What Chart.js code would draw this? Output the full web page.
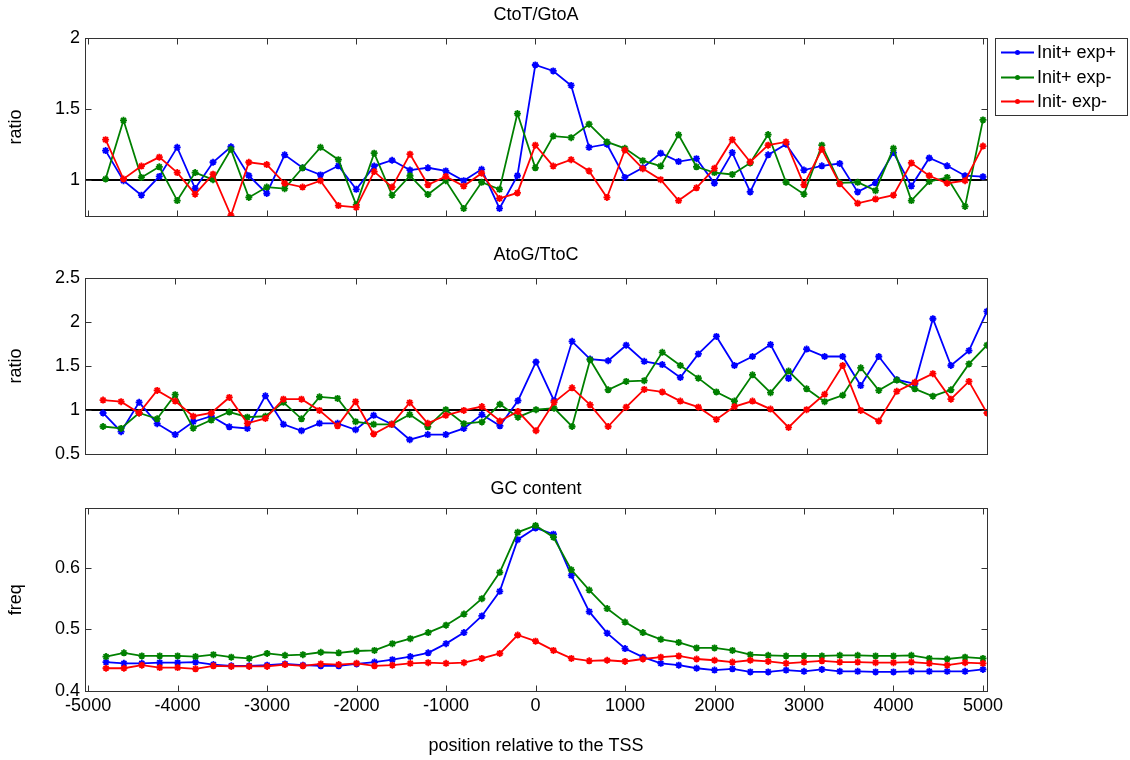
<!DOCTYPE html>
<html>
<head>
<meta charset="utf-8">
<script src="https://cdn.jsdelivr.net/npm/chart.js@4.4.1/dist/chart.umd.min.js"></script>
<style>
  html, body { margin: 0; padding: 0; background: #ffffff; }
  body { width: 1130px; height: 760px; position: relative; overflow: hidden; }
  canvas { position: absolute; left: 0; }
</style>
</head>
<body>
<canvas id="c1" width="1130" height="232" style="top:0px"></canvas>
<canvas id="c2" width="1130" height="238" style="top:232px"></canvas>
<canvas id="c3" width="1130" height="290" style="top:470px"></canvas>
<script>
// ---------- data ----------
const positions = [-4800,-4600,-4400,-4200,-4000,-3800,-3600,-3400,-3200,-3000,
  -2800,-2600,-2400,-2200,-2000,-1800,-1600,-1400,-1200,-1000,
  -800,-600,-400,-200,0,200,400,600,800,1000,
  1200,1400,1600,1800,2000,2200,2400,2600,2800,3000,
  3200,3400,3600,3800,4000,4200,4400,4600,4800,5000];

const seriesLabels = ['Init+ exp+', 'Init+ exp-', 'Init- exp-'];
const panelTitles = ['CtoT/GtoA', 'AtoG/TtoC', 'GC content'];
const yTitles = ['ratio', 'ratio', 'freq'];
const xTitle = 'position relative to the TSS';

const xTickValues = [-5000,-4000,-3000,-2000,-1000,0,1000,2000,3000,4000,5000];
const yTicksTop = [1, 1.5, 2];
const yTicksMid = [0.5, 1, 1.5, 2, 2.5];
const yTicksBot = [0.4, 0.5, 0.6];

// CtoT/GtoA
const ctBlue = [1.207,0.995,0.893,1.025,1.23,0.94,1.125,1.234,1.03,0.905,
  1.177,1.086,1.036,1.10,0.934,1.098,1.139,1.07,1.086,1.064,
  0.995,1.075,0.80,1.03,1.81,1.768,1.666,1.23,1.252,1.018,
  1.086,1.189,1.13,1.15,0.977,1.193,0.916,1.177,1.252,1.07,
  1.10,1.116,0.916,0.98,1.193,0.957,1.155,1.10,1.03,1.023];
const ctGreen = [1.007,1.42,1.018,1.093,0.855,1.052,1.002,1.216,0.877,0.95,
  0.939,1.086,1.23,1.143,0.825,1.189,0.893,1.03,0.898,0.995,
  0.80,0.984,0.934,1.468,1.086,1.309,1.298,1.393,1.268,1.223,
  1.136,1.098,1.318,1.093,1.052,1.039,1.12,1.32,0.984,0.90,
  1.245,0.98,0.984,0.925,1.223,0.855,0.989,1.018,0.814,1.423];
const ctRed = [1.284,1.007,1.098,1.161,1.052,0.90,1.041,0.75,1.125,1.109,
  0.977,0.95,0.995,0.82,0.807,1.059,0.95,1.182,0.966,1.025,
  0.957,1.048,0.87,0.909,1.245,1.098,1.143,1.064,0.877,1.211,
  1.08,1.002,0.855,0.945,1.082,1.284,1.127,1.245,1.268,0.966,
  1.216,0.973,0.836,0.866,0.893,1.12,1.03,0.977,0.995,1.239];

// AtoG/TtoC
const agBlue = [0.967,0.755,1.088,0.846,0.722,0.868,0.93,0.81,0.792,1.161,
  0.839,0.766,0.85,0.85,0.777,0.941,0.839,0.664,0.722,0.722,
  0.792,0.949,0.821,1.106,1.545,1.106,1.779,1.578,1.559,1.735,
  1.552,1.516,1.369,1.636,1.834,1.505,1.607,1.742,1.358,1.691,
  1.607,1.607,1.278,1.607,1.344,1.296,2.035,1.505,1.673,2.119];
const agGreen = [0.814,0.792,0.967,0.901,1.175,0.795,0.887,0.978,0.92,0.93,
  1.088,0.901,1.15,1.132,0.868,0.839,0.839,0.949,0.81,1.004,
  0.846,0.865,1.066,0.92,1.004,1.022,0.814,1.57,1.23,1.325,
  1.333,1.654,1.505,1.362,1.205,1.102,1.399,1.197,1.442,1.241,
  1.095,1.168,1.479,1.223,1.34,1.241,1.157,1.23,1.523,1.735];
const agRed = [1.113,1.095,0.967,1.223,1.102,0.93,0.967,1.143,0.85,0.905,
  1.124,1.124,0.996,0.821,1.095,0.729,0.839,1.084,0.85,0.941,
  0.996,1.04,0.876,0.985,0.766,1.088,1.252,1.059,0.814,1.033,
  1.234,1.205,1.102,1.033,0.894,1.04,1.102,1.011,0.803,1.004,
  1.179,1.505,0.996,0.876,1.212,1.314,1.413,1.124,1.325,0.967];

// GC content
const gcBlue = [0.447,0.445,0.445,0.446,0.446,0.447,0.443,0.441,0.441,0.442,
  0.444,0.442,0.441,0.441,0.444,0.447,0.451,0.456,0.462,0.477,
  0.495,0.522,0.562,0.646,0.665,0.655,0.588,0.529,0.494,0.469,
  0.455,0.445,0.442,0.437,0.434,0.436,0.431,0.431,0.434,0.432,
  0.435,0.432,0.432,0.431,0.431,0.432,0.432,0.432,0.432,0.435];
const gcGreen = [0.456,0.462,0.457,0.457,0.457,0.456,0.459,0.455,0.453,0.461,
  0.458,0.459,0.463,0.462,0.465,0.466,0.477,0.485,0.495,0.507,
  0.525,0.55,0.593,0.658,0.669,0.65,0.597,0.564,0.534,0.512,
  0.495,0.484,0.479,0.47,0.47,0.466,0.459,0.458,0.457,0.457,
  0.457,0.458,0.458,0.457,0.457,0.458,0.453,0.452,0.455,0.453];
const gcRed = [0.437,0.437,0.442,0.438,0.438,0.436,0.441,0.44,0.44,0.44,
  0.443,0.441,0.444,0.443,0.445,0.441,0.442,0.445,0.446,0.445,
  0.446,0.453,0.461,0.491,0.481,0.466,0.453,0.449,0.45,0.448,
  0.452,0.455,0.457,0.452,0.45,0.447,0.45,0.448,0.445,0.447,
  0.449,0.447,0.447,0.446,0.446,0.447,0.445,0.442,0.446,0.445];

const refLevel = 1;

// ---------- styling ----------
const FONT = '"Liberation Sans", Arial, Helvetica, sans-serif';
const FS = 18;
const COLORS = ['#0000ff', '#008000', '#ff0000'];
Chart.defaults.font.family = FONT;
Chart.defaults.font.size = FS;
Chart.defaults.color = '#000000';

function pts(arr) { return positions.map((x, i) => ({ x: x, y: arr[i] })); }

function seriesDatasets(arrs) {
  return arrs.map((a, k) => ({
    label: seriesLabels[k],
    data: pts(a),
    borderColor: COLORS[k],
    backgroundColor: COLORS[k],
    borderWidth: 1.8,
    pointStyle: 'star',
    pointRadius: 3.5,
    pointBorderWidth: 1.8,
    pointBorderColor: COLORS[k],
    pointBackgroundColor: COLORS[k],
    tension: 0,
    order: 3 - k
  }));
}

function refDataset(xmin, xmax) {
  return {
    label: '_ref',
    data: [{ x: xmin, y: refLevel }, { x: xmax, y: refLevel }],
    borderColor: '#000000',
    borderWidth: 2,
    pointRadius: 0,
    order: 10
  };
}

const boxPlugin = {
  id: 'matlabBox',
  afterDatasetsDraw(chart) {
    const { ctx, chartArea: a, scales } = chart;
    ctx.save();
    ctx.strokeStyle = '#333333';
    ctx.lineWidth = 1;
    const L = Math.round(a.left) + 0.5, R = Math.round(a.right) + 0.5;
    const T = Math.round(a.top) + 0.5, B = Math.round(a.bottom) + 0.5;
    ctx.strokeRect(L, T, R - L, B - T);
    const len = 6;
    ctx.beginPath();
    scales.x.ticks.forEach(t => {
      const px = Math.round(scales.x.getPixelForValue(t.value)) + 0.5;
      ctx.moveTo(px, B); ctx.lineTo(px, B - len);
      ctx.moveTo(px, T); ctx.lineTo(px, T + len);
    });
    scales.y.ticks.forEach(t => {
      const py = Math.round(scales.y.getPixelForValue(t.value)) + 0.5;
      ctx.moveTo(L, py); ctx.lineTo(L + len, py);
      ctx.moveTo(R, py); ctx.lineTo(R - len, py);
    });
    ctx.stroke();
    // panel title centred over the axes box
    const opt = chart.options.plugins.matlabBox || {};
    if (opt.title) {
      ctx.fillStyle = '#000000';
      ctx.font = FS + 'px ' + FONT;
      ctx.textAlign = 'center';
      ctx.textBaseline = 'middle';
      ctx.fillText(opt.title, (a.left + a.right) / 2, opt.titleY);
    }
    ctx.restore();
  }
};

const legendPlugin = {
  id: 'matlabLegend',
  afterDraw(chart) {
    const { ctx } = chart;
    const bx = 995.5, by = 38.5, bw = 132, bh = 77;
    ctx.save();
    ctx.fillStyle = '#ffffff';
    ctx.fillRect(bx, by, bw, bh);
    ctx.strokeStyle = '#333333';
    ctx.lineWidth = 1;
    ctx.strokeRect(bx, by, bw, bh);
    const rows = [52.5, 77.5, 101.5];
    const dsList = chart.data.datasets.filter(d => d.label !== '_ref');
    dsList.forEach((d, k) => {
      const y = rows[k];
      ctx.strokeStyle = d.borderColor;
      ctx.lineWidth = 1.8;
      ctx.beginPath();
      ctx.moveTo(1001, y); ctx.lineTo(1034, y);
      ctx.stroke();
      ctx.fillStyle = d.borderColor;
      ctx.beginPath();
      ctx.arc(1017.5, y, 2.5, 0, Math.PI * 2);
      ctx.fill();
      ctx.fillStyle = '#000000';
      ctx.font = FS + 'px ' + FONT;
      ctx.textAlign = 'left';
      ctx.textBaseline = 'middle';
      ctx.fillText(d.label, 1037, y + 1);
    });
    ctx.restore();
  }
};

function makeChart(id, cfg) {
  const xAxis = {
    type: 'linear',
    min: cfg.xmin,
    max: cfg.xmax,
    grid: { display: false, drawTicks: false },
    border: { display: false },
    afterBuildTicks: s => { s.ticks = xTickValues.map(v => ({ value: v })); },
    afterFit: s => { s.height = cfg.xHeight; },
    ticks: {
      display: cfg.showXLabels,
      autoSkip: false,
      maxRotation: 0,
      padding: 4,
      font: { size: FS },
      color: '#000000',
      callback: v => String(v)
    },
    title: {
      display: cfg.showXLabels,
      text: xTitle,
      font: { size: FS },
      color: '#000000',
      padding: { top: 3, bottom: 3 }
    }
  };
  const yAxis = {
    type: 'linear',
    min: cfg.ymin,
    max: cfg.ymax,
    grid: { display: false, drawTicks: false },
    border: { display: false },
    afterBuildTicks: s => { s.ticks = cfg.yTicks.map(v => ({ value: v })); },
    afterFit: s => { s.width = 85; },
    ticks: {
      autoSkip: false,
      padding: 5,
      font: { size: FS },
      color: '#000000',
      callback: v => String(v)
    },
    title: {
      display: true,
      text: cfg.yTitle,
      font: { size: FS },
      color: '#000000',
      padding: { top: 5, bottom: 5 }
    }
  };
  const datasets = seriesDatasets(cfg.series);
  if (cfg.ref) datasets.push(refDataset(cfg.xmin, cfg.xmax));
  const plugins = [boxPlugin];
  if (cfg.legend) plugins.push(legendPlugin);
  return new Chart(document.getElementById(id), {
    type: 'line',
    data: { datasets: datasets },
    options: {
      responsive: false,
      animation: false,
      devicePixelRatio: 1,
      layout: { padding: { left: 0, right: 143, top: cfg.areaTop, bottom: 0 } },
      scales: { x: xAxis, y: yAxis },
      plugins: {
        legend: { display: false },
        tooltip: { enabled: false },
        title: { display: false },
        matlabBox: { title: cfg.title, titleY: cfg.titleY }
      }
    },
    plugins: plugins
  });
}

makeChart('c1', {
  title: panelTitles[0], yTitle: yTitles[0],
  series: [ctBlue, ctGreen, ctRed],
  xmin: -5030, xmax: 5045, ymin: 0.745, ymax: 2, yTicks: yTicksTop,
  xHeight: 10, showXLabels: false, ref: true, legend: true,
  areaTop: 38, titleY: 15
});
makeChart('c2', {
  title: panelTitles[1], yTitle: yTitles[1],
  series: [agBlue, agGreen, agRed],
  xmin: -5000, xmax: 5000, ymin: 0.5, ymax: 2.5, yTicks: yTicksMid,
  xHeight: 10, showXLabels: false, ref: true, legend: false,
  areaTop: 45.7, titleY: 23.5
});
makeChart('c3', {
  title: panelTitles[2], yTitle: yTitles[2],
  series: [gcBlue, gcGreen, gcRed],
  xmin: -5035, xmax: 5045, ymin: 0.4, ymax: 0.697, yTicks: yTicksBot,
  xHeight: 69, showXLabels: true, ref: false, legend: false,
  areaTop: 38.3, titleY: 19.5
});
</script>
</body>
</html>
